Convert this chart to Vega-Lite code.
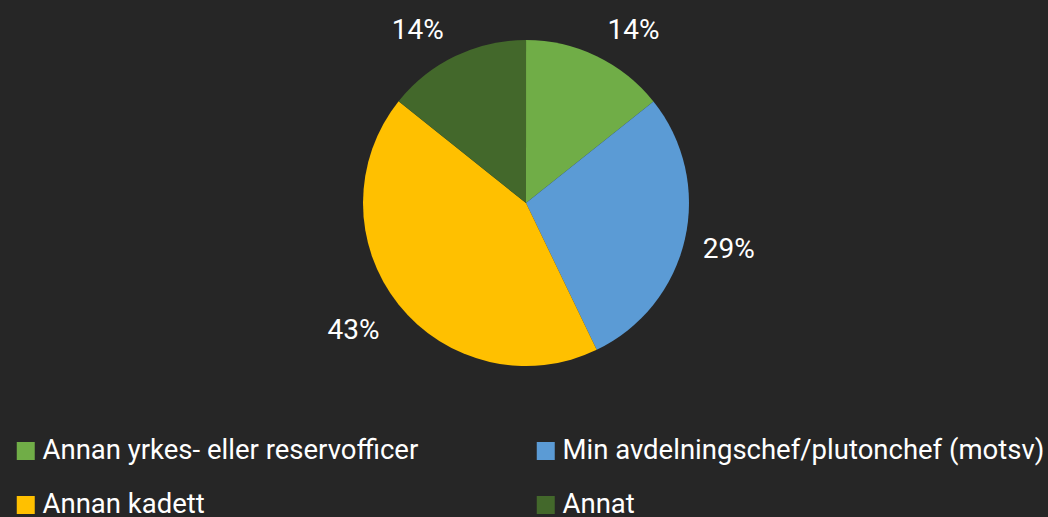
{"$schema":"https://vega.github.io/schema/vega-lite/v6.json","width":1044,"height":406,"padding":{"left":4,"right":0,"top":0,"bottom":111},"autosize":{"type":"none"},"background":"#262626","view":{"stroke":null},
"data":{"values":[{"cat":"Annan yrkes- eller reservofficer","share":14.29,"pct":"14%","ord":1},{"cat":"Min avdelningschef/plutonchef (motsv)","share":28.57,"pct":"29%","ord":2},{"cat":"Annan kadett","share":42.86,"pct":"43%","ord":3},{"cat":"Annat","share":14.29,"pct":"14%","ord":4}]},
"transform":[{"stack":"share","sort":[{"field":"ord","order":"ascending"}],"as":["t0","t1"]},{"calculate":"(datum.t0+datum.t1)/2","as":"mid"}],
"layer":[
{"mark":{"type":"arc","outerRadius":163},
"encoding":{"theta":{"field":"t0","type":"quantitative","scale":{"domain":[0,100],"range":[0,6.2832]}},"theta2":{"field":"t1"},"color":{"field":"cat","type":"nominal","sort":null,"scale":{"domain":["Annan yrkes- eller reservofficer","Min avdelningschef/plutonchef (motsv)","Annan kadett","Annat"],"range":["#70AD47","#5B9BD5","#FFC000","#43682B"]},
"legend":{"title":null,"orient":"none","legendX":8,"legendY":436,"columns":2,"direction":"horizontal","symbolType":"square","symbolSize":324,"symbolStrokeWidth":0,"symbolOpacity":1,"labelFont":"Roboto","labelFontSize":27.5,"labelColor":"#ffffff","labelLimit":600,"labelOffset":3,"rowPadding":24,"columnPadding":113,"clipHeight":30}}}},
{"transform":[{"filter":"datum.ord==1"}],"mark":{"type":"text","radius":190,"dx":25,"dy":-1,"font":"Roboto","fontSize":28,"color":"#ffffff","align":"center","baseline":"middle"},"encoding":{"theta":{"field":"mid","type":"quantitative","scale":{"domain":[0,100],"range":[0,6.2832]}},"text":{"field":"pct"}}},
{"transform":[{"filter":"datum.ord==2"}],"mark":{"type":"text","radius":208,"dy":1,"font":"Roboto","fontSize":28,"color":"#ffffff","align":"center","baseline":"middle"},"encoding":{"theta":{"field":"mid","type":"quantitative","scale":{"domain":[0,100],"range":[0,6.2832]}},"text":{"field":"pct"}}},
{"transform":[{"filter":"datum.ord==3"}],"mark":{"type":"text","radius":213,"dx":-6,"dy":-5,"font":"Roboto","fontSize":28,"color":"#ffffff","align":"center","baseline":"middle"},"encoding":{"theta":{"field":"mid","type":"quantitative","scale":{"domain":[0,100],"range":[0,6.2832]}},"text":{"field":"pct"}}},
{"transform":[{"filter":"datum.ord==4"}],"mark":{"type":"text","radius":190,"dx":-26,"dy":-1,"font":"Roboto","fontSize":28,"color":"#ffffff","align":"center","baseline":"middle"},"encoding":{"theta":{"field":"mid","type":"quantitative","scale":{"domain":[0,100],"range":[0,6.2832]}},"text":{"field":"pct"}}}
]}
